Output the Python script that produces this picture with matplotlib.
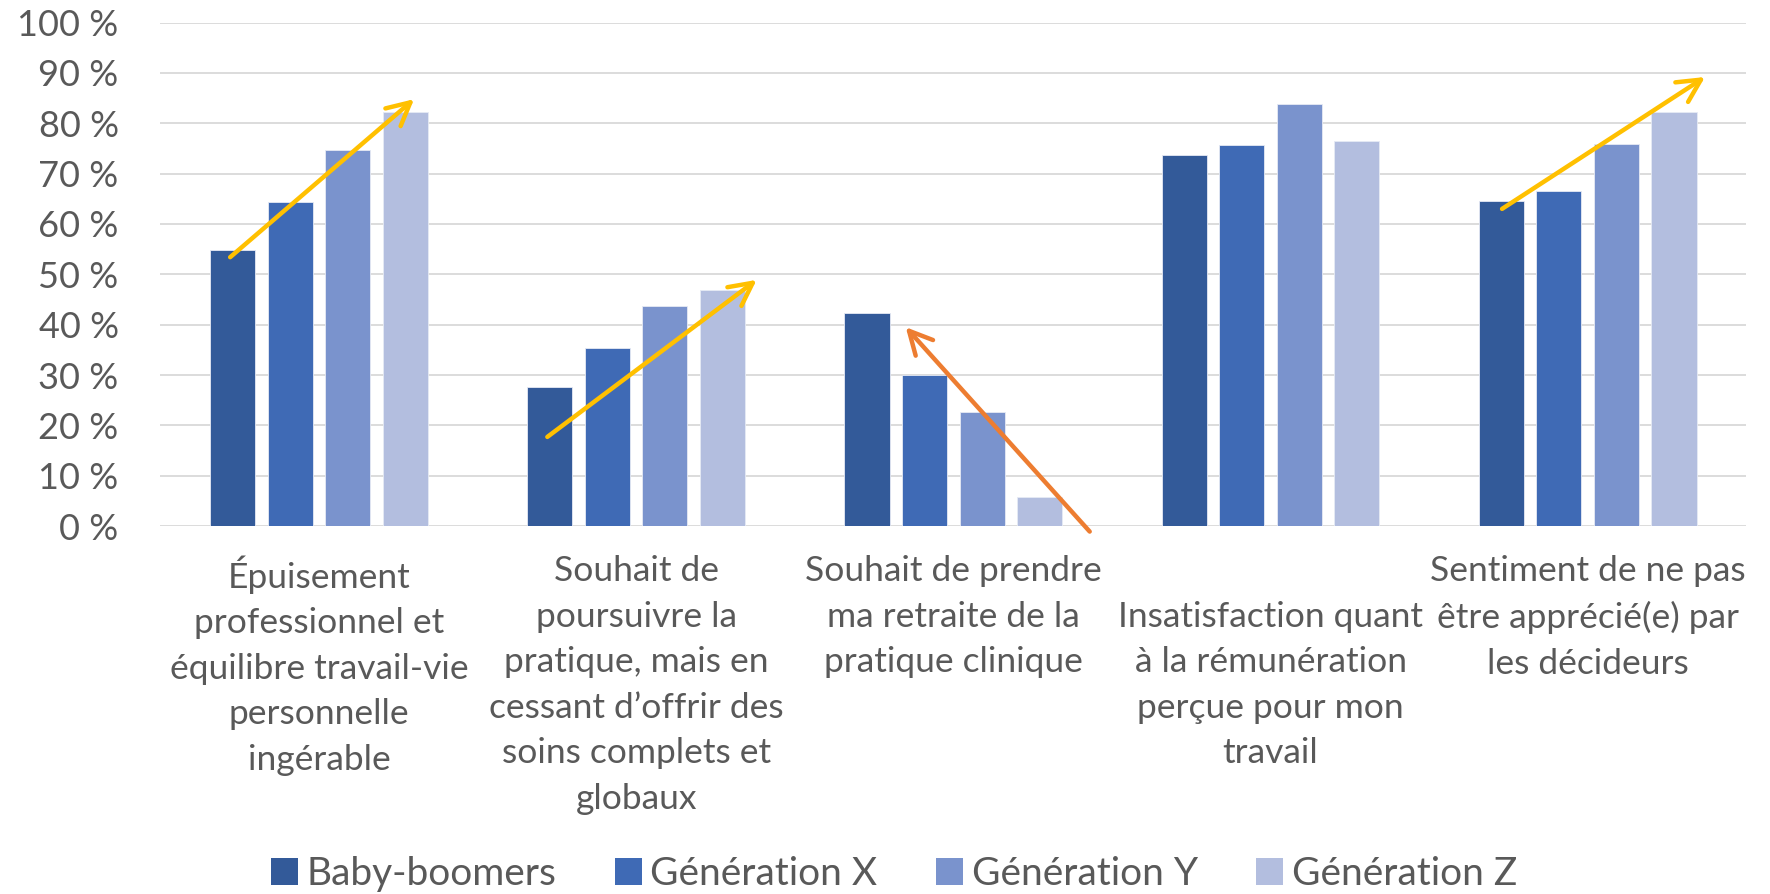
import numpy as np
import matplotlib
matplotlib.use('Agg')
import matplotlib.pyplot as plt
from matplotlib.patches import Patch

plt.rcParams['font.family'] = ['Lato', 'DejaVu Sans']

categories = [
    'Épuisement\nprofessionnel et\néquilibre travail-vie\npersonnelle\ningérable',
    'Souhait de\npoursuivre la\npratique, mais en\ncessant d’offrir des\nsoins complets et\nglobaux',
    'Souhait de prendre\nma retraite de la\npratique clinique',
    '\nInsatisfaction quant\nà la rémunération\nperçue pour mon\ntravail',
    'Sentiment de ne pas\nêtre apprécié(e) par\nles décideurs',
]
series_names = ['Baby-boomers', 'Génération X', 'Génération Y', 'Génération Z']
baby_boomers = [54.8, 27.7, 42.3, 73.7, 64.6]
generation_x = [64.4, 35.3, 30.0, 75.6, 66.6]
generation_y = [74.7, 43.8, 22.6, 83.9, 75.9]
generation_z = [82.3, 46.9, 5.8, 76.4, 82.2]
yticks = list(range(0, 101, 10))
ytick_labels = [f'{v} %' for v in yticks]

# trend arrows (start, end) in data coords
trend_arrows = [
    ((-0.28, 53.4), (0.30, 84.8), '#FFC000'),
    ((0.72, 17.7), (1.38, 48.9), '#FFC000'),
    ((2.43, -1.1), (1.85, 39.5), '#ED7D31'),
    ((3.73, 63.0), (4.37, 89.2), '#FFC000'),
]

colors = ['#335A99', '#3F6AB5', '#7A93CD', '#B3BEDF']
text_color = '#595959'

fig = plt.figure(figsize=(17.7, 8.94), dpi=100)
ax = fig.add_axes([0.0906, 0.4116, 0.896, 0.5631])

x = np.arange(len(categories))
width = 0.1423
step = 0.1815
all_series = [baby_boomers, generation_x, generation_y, generation_z]
for i, (vals, col) in enumerate(zip(all_series, colors)):
    ax.bar(x + (i - 1.5) * step, vals, width, color=col, edgecolor='#E6EAF4',
           linewidth=0.6, zorder=3)

for start, end, col in trend_arrows:
    ax.annotate('', xy=end, xytext=start, annotation_clip=False,
                arrowprops=dict(arrowstyle='->,head_length=0.55,head_width=0.28',
                                color=col, lw=3.2, mutation_scale=30,
                                shrinkA=0, shrinkB=0), zorder=5)

ax.set_xlim(-0.5, len(categories) - 0.5)
ax.set_ylim(0, 100)
ax.set_yticks(yticks)
ax.set_yticklabels(ytick_labels)
ax.set_xticks(x)
ax.set_xticklabels(categories, linespacing=1.52)
ax.yaxis.grid(True, color='#D9D9D9', linewidth=1.3, zorder=0)
ax.set_axisbelow(True)
for s in ax.spines.values():
    s.set_visible(False)
ax.tick_params(axis='y', length=0, pad=30, labelsize=26, labelcolor=text_color)
ax.tick_params(axis='x', length=0, pad=21, labelsize=25.5, labelcolor=text_color)

handles = [Patch(facecolor=c, edgecolor='none') for c in colors]
fig.legend(handles, series_names, loc='center', bbox_to_anchor=(0.505, 0.022),
           ncol=4, frameon=False, fontsize=28, labelcolor=text_color,
           handlelength=0.7, handleheight=0.7, handletextpad=0.22,
           columnspacing=1.5)

fig.savefig('out.png', dpi=100)
